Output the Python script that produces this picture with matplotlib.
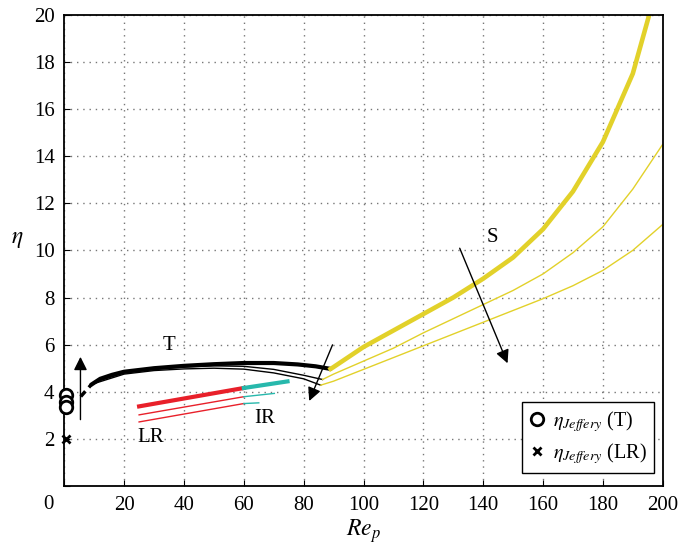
import numpy as np
import matplotlib.pyplot as plt

plt.rcParams['font.family'] = ['Liberation Serif', 'DejaVu Serif']
plt.rcParams['mathtext.fontset'] = 'stix'

# T branch (black)
t_x = [9, 12, 16, 20, 30, 40, 50, 60, 70, 78, 84, 89]
t_y = [4.3, 4.55, 4.72, 4.85, 5.0, 5.1, 5.17, 5.22, 5.22, 5.16, 5.08, 4.97]
t1_x = [10, 20, 30, 40, 50, 60, 70, 80, 86.3]
t1_y = [4.4, 4.8, 4.95, 5.05, 5.1, 5.08, 4.95, 4.7, 4.52]
t2_x = [10, 20, 30, 40, 50, 60, 70, 80, 85.7]
t2_y = [4.35, 4.75, 4.9, 4.97, 5.0, 4.96, 4.8, 4.55, 4.28]
dash_x = [5.5, 9]
dash_y = [3.8, 4.3]

# LR branch (red) and IR branch (teal)
lr_x = [25, 60]
lr_y = [[3.38, 4.16], [3.02, 3.79], [2.72, 3.5]]
ir_x_end = [74.6, 70.2, 65]
ir_y_end = [4.44, 3.93, 3.53]

# S branch (yellow)
s_x = [89, 90, 100, 110, 120, 130, 140, 150, 160, 170, 180, 190, 195.5]
s_y = [4.97, 5.05, 5.9, 6.6, 7.3, 8.0, 8.8, 9.7, 10.9, 12.5, 14.6, 17.5, 20]
s1_x = [86.3, 90, 100, 110, 120, 130, 140, 150, 160, 170, 180, 190, 200]
s1_y = [4.52, 4.75, 5.3, 5.85, 6.5, 7.1, 7.7, 8.3, 9.0, 9.9, 11.0, 12.6, 14.5]
s2_x = [85.7, 90, 100, 110, 120, 130, 140, 150, 160, 170, 180, 190, 200]
s2_y = [4.28, 4.45, 4.95, 5.45, 5.95, 6.45, 6.95, 7.45, 7.95, 8.5, 9.15, 10.0, 11.1]

# Jeffery values
jef_t = [3.85, 3.56, 3.34]
jef_lr = [2.0]

red = '#e8202a'
teal = '#27b8ac'
yellow = '#e2d12a'

fig = plt.figure(figsize=(6.79, 5.48), dpi=100)
ax = fig.add_axes([0.0947, 0.1131, 0.8813, 0.860])

ax.plot(dash_x, dash_y, color='black', lw=2.5, ls=(0, (2, 1.5)))
ax.plot(t_x, t_y, color='black', lw=3.0, solid_capstyle='round')
ax.plot(t1_x, t1_y, color='black', lw=1.0)
ax.plot(t2_x, t2_y, color='black', lw=1.0)

for i in range(3):
    lw = 3.0 if i == 0 else 1.0
    ax.plot(lr_x, lr_y[i], color=red, lw=lw)
    ax.plot([lr_x[1], ir_x_end[i]], [lr_y[i][1], ir_y_end[i]], color=teal, lw=lw)

ax.plot(s_x, s_y, color=yellow, lw=3.3)
ax.plot(s1_x, s1_y, color=yellow, lw=1.0)
ax.plot(s2_x, s2_y, color=yellow, lw=1.0)

ax.plot([0.7] * len(jef_t), jef_t, ls='none', marker='o', ms=9, mfc='white',
        mec='black', mew=2, clip_on=False, zorder=5, label=r'$\eta_{Jeffery}$ (T)')
ax.plot([0.7], jef_lr, ls='none', marker='x', ms=6, color='black', mew=2,
        clip_on=False, zorder=5, label=r'$\eta_{Jeffery}$ (LR)')

arr = dict(arrowstyle='-|>', color='black', lw=1.0, mutation_scale=20)
ax.annotate('', xy=(5.4, 5.6), xytext=(5.4, 2.7), arrowprops=arr)
ax.annotate('', xy=(81.5, 3.5), xytext=(90, 6.1), arrowprops=arr)
ax.annotate('', xy=(148.5, 5.1), xytext=(131.8, 10.2), arrowprops=arr)

ax.text(35, 5.95, 'T', fontsize=15, ha='center', va='center')
ax.text(143, 10.55, 'S', fontsize=15, ha='center', va='center')
ax.text(29, 2.05, 'LR', fontsize=15, ha='center', va='center')
ax.text(67, 2.85, 'IR', fontsize=15, ha='center', va='center')

ax.set_xlim(0, 200)
ax.set_ylim(0, 20)
ax.set_xticks(np.arange(0, 201, 20))
ax.set_yticks(np.arange(0, 21, 2))
ax.set_xticklabels([''] + [str(v) for v in range(20, 201, 20)])
ax.set_yticklabels([''] + [str(v) for v in range(2, 21, 2)])
ax.text(-0.026, -0.04, '0', transform=ax.transAxes, fontsize=15, ha='center', va='center')
ax.tick_params(direction='in', labelsize=15, length=4, width=0.8, pad=7)
ax.grid(True, color='#777777', ls=(0, (1, 3.5)), lw=1.0)
for sp in ax.spines.values():
    sp.set_linewidth(1.3)

ax.set_xlabel(r'$Re_p$', fontsize=17, labelpad=2)
ax.set_ylabel(r'$\eta$', fontsize=17, rotation=0, labelpad=12)

leg = ax.legend(loc='lower right', fontsize=14.5, frameon=True, fancybox=False,
                edgecolor='black', framealpha=1, handletextpad=0.4,
                borderpad=0.35, labelspacing=0.35, handlelength=0.8,
                borderaxespad=0, bbox_to_anchor=(0.9855, 0.0276))
leg.get_frame().set_linewidth(1.0)

fig.savefig('out.png', dpi=100)
